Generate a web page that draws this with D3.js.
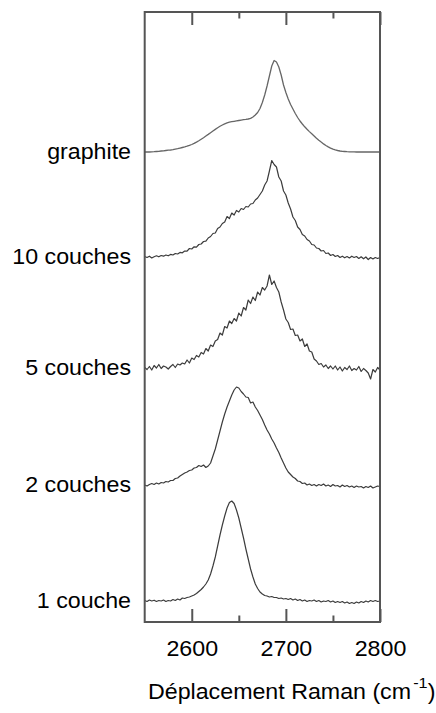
<!DOCTYPE html>
<html>
<head>
<meta charset="utf-8">
<script src="https://cdn.jsdelivr.net/npm/d3@7"></script>
<style>
  html, body { margin: 0; padding: 0; background: #fff; }
  svg { display: block; }
  text { font-family: "Liberation Sans", Arial, sans-serif; fill: #000; }
</style>
</head>
<body>
<svg id="chart" width="436" height="713"></svg>
<script>
// ---- data ----
const wavenumbers = [
  2550,2552.5,2555,2557.5,2560,2562.5,2565,2567.5,2570,2572.5,
  2575,2577.5,2580,2582.5,2585,2587.5,2590,2592.5,2595,2597.5,
  2600,2602.5,2605,2607.5,2610,2612.5,2615,2617.5,2620,2622.5,
  2625,2627.5,2630,2632.5,2635,2637.5,2640,2642.5,2645,2647.5,
  2650,2652.5,2655,2657.5,2660,2662.5,2665,2667.5,2670,2672.5,
  2675,2677.5,2680,2682.5,2685,2687.5,2690,2692.5,2695,2697.5,
  2700,2702.5,2705,2707.5,2710,2712.5,2715,2717.5,2720,2722.5,
  2725,2727.5,2730,2732.5,2735,2737.5,2740,2742.5,2745,2747.5,
  2750,2752.5,2755,2757.5,2760,2762.5,2765,2767.5,2770,2772.5,
  2775,2777.5,2780,2782.5,2785,2787.5,2790,2792.5,2795,2797.5,
  2800
];

const labels = ["graphite", "10 couches", "5 couches", "2 couches", "1 couche"];
const offsets = [470, 365, 254, 137, 21];

const graphite = [
  0,0,0,0.2,0.3,0.5,0.7,1.0,1.2,1.5,
  1.8,2.0,2.3,2.8,3.3,3.9,4.5,5.1,5.8,6.6,
  7.5,8.6,9.9,11.3,12.8,14.3,16.0,17.6,19.3,21.0,
  22.6,24.2,25.7,27.0,28.2,29.1,29.8,30.3,30.7,31.1,
  31.5,31.9,32.3,32.6,33.0,33.6,35.0,37.0,39.5,43.5,
  49.5,57,66,76,86,91.5,90,85,77,67,
  59.5,53,47.5,43,38.5,34.5,31,28,25.2,22.7,
  20.4,18.2,16,13.8,11.8,9.9,8.1,6.5,5.1,3.9,
  2.9,2.1,1.5,1.0,0.7,0.5,0.3,0.2,0.1,0.1,
  0,0,0,0,0,0,0,0,0,0,
  0
];

const couches10 = [
  0.5,-0.5,0.8,-1.0,0.3,1.2,0.2,1.5,0.8,2.0,
  1.2,2.6,2.0,3.5,3.0,4.6,4.2,6.0,5.8,8.5,
  8.0,10.2,9.8,12.5,13.0,15.5,15.8,19.0,20.5,23.5,
  24.0,28.5,30.0,33.5,35.0,40.5,38.5,44.0,42.0,46.5,
  45.0,48.5,47.5,50.5,50.0,53.0,53.5,57.0,59.0,62.5,
  66.0,72.0,76.0,86.0,96.5,92.5,90.0,80.0,76.0,66.0,
  62.0,54.0,48.0,40.0,36.5,30.0,27.5,22.5,21.0,17.5,
  16.0,12.5,12.0,9.0,8.5,6.0,6.5,3.5,4.0,1.5,
  2.5,0.5,1.5,-0.5,0.8,-0.8,0.5,-1.0,0.8,-0.5,
  0.5,-1.5,0.2,-1.8,0.0,-2.5,-0.5,-2.0,-0.5,-1.5,
  -0.5
];

const couches5 = [
  0.5,-1.5,1.5,-2.0,2.5,0.0,3.5,-0.5,2.0,1.0,
  -1.0,1.5,3.5,0.5,4.0,3.0,5.0,4.0,8.0,5.0,
  10.0,8.5,12.5,11.0,15.5,14.0,19.5,17.0,23.0,21.5,
  27.0,28.5,35.0,33.0,41.5,40.0,47.0,44.5,49.5,47.0,
  55.0,52.0,60.5,58.0,68.0,64.5,71.0,67.5,76.0,73.0,
  80.5,78.0,82.0,93.0,83.5,87.0,80.5,76.0,66.0,58.0,
  49.0,45.5,38.5,39.0,32.5,33.0,27.0,29.0,21.5,24.0,
  17.0,16.0,9.0,7.0,3.5,4.5,1.0,3.0,-0.5,2.0,
  -1.0,2.0,-2.0,1.0,-3.0,0.5,-1.5,2.0,-2.5,-0.5,
  -2.0,1.5,-3.5,-0.5,-2.5,-5.0,-11.0,-1.5,-4.0,0.5,
  -2.0
];

const couches2 = [
  0.0,-1.0,0.5,1.5,0.5,2.0,1.0,2.5,2.0,3.5,
  3.0,4.5,4.5,6.5,7.0,9.0,10.5,12.0,13.0,14.5,
  15.0,17.0,17.5,19.5,18.5,20.0,17.5,19.0,22.0,29.0,
  36.0,45.0,54.0,63.0,71.0,78.0,84.0,90.0,95.0,98.0,
  97.0,93.5,91.0,88.0,87.5,82.0,83.0,78.0,74.5,70.0,
  65.5,60.0,55.0,51.0,46.0,42.0,37.0,32.5,27.0,22.0,
  17.0,13.0,10.5,8.0,6.5,4.0,3.5,1.5,2.0,0.0,
  1.0,-0.5,0.5,-1.0,0.5,-0.5,1.0,-1.0,0.0,-1.5,
  0.5,-1.0,-0.5,-2.0,0.0,-1.5,-0.5,-2.0,-1.0,-2.5,
  -1.0,-2.0,-1.5,-3.0,-1.5,-2.5,-1.0,-3.0,-2.0,-1.0,
  -1.5
];

const couche1 = [
  0.5,-0.5,1.0,0.0,0.8,-0.5,0.5,0.0,1.0,-0.5,
  0.5,0.0,1.5,0.5,2.0,1.0,3.0,2.5,3.5,4.0,
  5.0,6.0,7.5,9.5,11.5,14.0,17.0,21.0,27.0,35.0,
  44.0,55.0,66.0,76.0,85.0,93.0,98.5,100.0,97.5,91.0,
  83.0,73.0,63.0,52.0,42.0,32.0,24.0,17.0,12.5,9.0,
  7.0,5.5,5.0,4.0,4.5,3.5,3.5,2.5,3.0,2.0,
  2.5,1.5,2.5,1.0,2.0,0.5,1.5,0.0,1.0,-0.5,
  0.5,0.0,1.0,-0.5,0.5,-1.0,0.0,-0.5,0.5,-1.0,
  0.0,-1.5,-0.5,-1.5,-0.5,-2.0,-1.0,-2.5,-1.5,-2.5,
  -1.0,-2.0,-0.5,-1.5,0.0,-1.0,0.5,-0.5,0.5,-0.5,
  0.0
];

const series = [graphite, couches10, couches5, couches2, couche1];

const majorTicks = [2600, 2700, 2800];
const minorTicks = [2650, 2750];
const xTitle = "Déplacement Raman (cm";
const xTitleSup = "-1";
const xTitleEnd = ")";

// ---- layout ----
const svg = d3.select("#chart");
const plotLeft = 144.7, plotRight = 380, plotTop = 12, plotBottom = 622;
const fontSize = 21.5, stretch = 1.08;

const x = d3.scaleLinear().domain([2550, 2800]).range([plotLeft, plotRight]);
const y = d3.scaleLinear().domain([0, 610]).range([plotBottom, plotTop]);

// spectra
const line = d3.line()
  .x((v, i) => x(wavenumbers[i]))
  .y(v => v);

series.forEach((vals, k) => {
  const pts = vals.map(v => y(offsets[k] + v));
  svg.append("path")
    .attr("d", line(pts))
    .attr("fill", "none")
    .attr("stroke", k === 0 ? "#666" : "#3c3c3c")
    .attr("stroke-width", k === 0 ? 1.3 : 1.2)
    .attr("stroke-linejoin", "round");
});

// axes (ticks inward)
function styleAxis(g) {
  g.select(".domain").remove();
  g.selectAll(".tick line").attr("stroke", "#555").attr("stroke-width", 2);
}
const gBottom = svg.append("g").attr("transform", `translate(0,${plotBottom})`)
  .call(d3.axisBottom(x).tickValues(majorTicks).tickSizeInner(-13).tickSizeOuter(0).tickFormat(d3.format("d")))
  .call(styleAxis);
gBottom.selectAll(".tick text")
  .attr("y", 34.5).attr("dy", 0)
  .attr("transform", `scale(${stretch},1)`)
  .style("font-family", '"Liberation Sans", Arial, sans-serif')
  .style("font-size", fontSize + "px")
  .attr("fill", "#000");

svg.append("g").attr("transform", `translate(0,${plotBottom})`)
  .call(d3.axisBottom(x).tickValues(minorTicks).tickSizeInner(-6.5).tickSizeOuter(0).tickFormat(""))
  .call(styleAxis);
svg.append("g").attr("transform", `translate(0,${plotTop})`)
  .call(d3.axisTop(x).tickValues(majorTicks).tickSizeInner(-13).tickSizeOuter(0).tickFormat(""))
  .call(styleAxis);
svg.append("g").attr("transform", `translate(0,${plotTop})`)
  .call(d3.axisTop(x).tickValues(minorTicks).tickSizeInner(-6.5).tickSizeOuter(0).tickFormat(""))
  .call(styleAxis);

// frame
svg.append("rect")
  .attr("x", plotLeft).attr("y", plotTop)
  .attr("width", plotRight - plotLeft).attr("height", plotBottom - plotTop)
  .attr("fill", "none").attr("stroke", "#555").attr("stroke-width", 2);

// series labels
labels.forEach((lab, k) => {
  svg.append("g")
    .attr("transform", `translate(131,${y(offsets[k]) + 7}) scale(${stretch},1)`)
    .append("text")
    .attr("text-anchor", "end")
    .style("font-size", fontSize + "px")
    .text(lab);
});

// x title
const t = svg.append("g")
  .attr("transform", `translate(148,699) scale(${stretch},1)`)
  .append("text")
  .style("font-size", fontSize + "px");
t.append("tspan").text(xTitle);
t.append("tspan").attr("dy", -11).attr("dx", 2).style("font-size", "15px").text(xTitleSup);
t.append("tspan").attr("dy", 11).text(xTitleEnd);
</script>
</body>
</html>
